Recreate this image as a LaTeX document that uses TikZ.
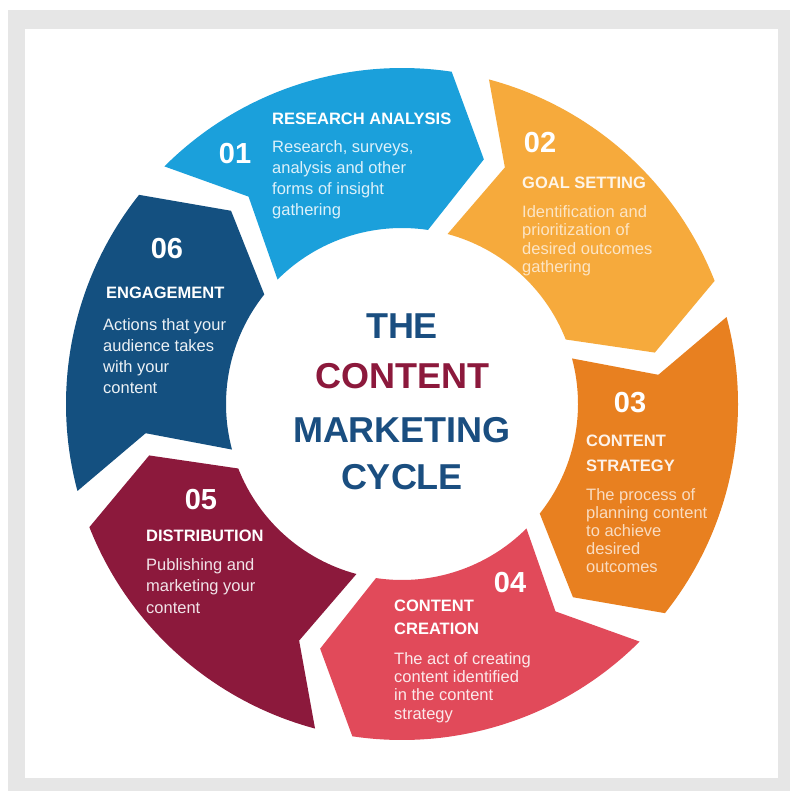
\documentclass[tikz,border=0pt]{standalone}
\usepackage{fontspec}
\setmainfont{Liberation Sans}
\definecolor{c1}{RGB}{27,160,219}
\definecolor{c2}{RGB}{246,170,60}
\definecolor{c3}{RGB}{232,128,32}
\definecolor{c4}{RGB}{225,74,90}
\definecolor{c5}{RGB}{140,25,60}
\definecolor{c6}{RGB}{20,80,128}
\definecolor{tblue}{RGB}{26,78,128}
\definecolor{frame}{RGB}{230,230,230}
\begin{document}
\begin{tikzpicture}[x=1pt,y=1pt,
  num/.style={font=\fontsize{29}{29}\selectfont\bfseries, text=white, inner sep=0pt, anchor=center},
  head/.style={font=\fontsize{16.5}{#1}\selectfont\bfseries, text=white, anchor=north west, align=left, inner sep=0pt},
  head/.default=20,
  body/.style={font=\fontsize{16.5}{#1}\selectfont, anchor=north west, align=left, inner sep=0pt},
  body/.default=21,
  ttl/.style={font=\fontsize{36}{36}\selectfont\bfseries, inner sep=0pt, anchor=center, text=tblue}]
\useasboundingbox (0,0) rectangle (790,-791);
\fill[white] (0,0) rectangle (790,-791);
\fill[frame] (8,-10) rectangle (790,-791);
\fill[white] (25,-29) rectangle (778,-778);
% ring segments
\begin{scope}[shift={(402,-404)}]
\foreach \T/\col in {135/c1,75/c2,15/c3,-45/c4,-105/c5,-165/c6}{
  \fill[\col] (\T:336) arc[start angle=\T, end angle={\T-53.5}, radius=336pt]
     -- ({\T-63.5}:258) -- ({\T-53.5}:176)
     arc[start angle={\T-53.5}, end angle=\T, radius=176pt]
     -- ({\T-8.5}:258) -- cycle;
}
\end{scope}
% title
\node[ttl] (t1) at (402,-326.5) {THE};
\node[ttl, text=c5] (t2) at (402,-376.5) {CONTENT};
\node[ttl] (t3) at (402,-430) {MARKETING};
\node[ttl] (t4) at (402,-477.5) {CYCLE};
% 01
\node[num] (n1) at (235,-153.5) {01};
\node[head] (h1) at (272,-113) {RESEARCH ANALYSIS};
\node[body=21, text=white!85!c1] (b1) at (272,-140) {Research, surveys,\\analysis and other\\forms of insight\\gathering};
% 02
\node[num] (n2) at (540,-143) {02};
\node[head, text=white!88!c2] (h2) at (522,-177) {GOAL SETTING};
\node[body=18.5, text=white!70!c2] (b2) at (522,-205) {Identification and\\prioritization of\\desired outcomes\\gathering};
% 03
\node[num] (n3) at (630,-403) {03};
\node[head=25, text=white!90!c3] (h3) at (586,-435) {CONTENT\\STRATEGY};
\node[body=18, text=white!72!c3] (b3) at (586,-488) {The process of\\planning content\\to achieve\\desired\\outcomes};
% 04
\node[num] (n4) at (510,-583) {04};
\node[head=23] (h4) at (394,-600) {CONTENT\\CREATION};
\node[body=18.3, text=white!88!c4] (b4) at (394,-652) {The act of creating\\content identified\\in the content\\strategy};
% 05
\node[num] (n5) at (201,-500) {05};
\node[head] (h5) at (146,-530) {DISTRIBUTION};
\node[body=21.5, text=white!88!c5] (b5) at (146,-558) {Publishing and\\marketing your\\content};
% 06
\node[num] (n6) at (167,-249) {06};
\node[head] (h6) at (106,-287) {ENGAGEMENT};
\node[body=21, text=white!92!c6] (b6) at (103,-318) {Actions that your\\audience takes\\with your\\content};
\end{tikzpicture}
\end{document}
